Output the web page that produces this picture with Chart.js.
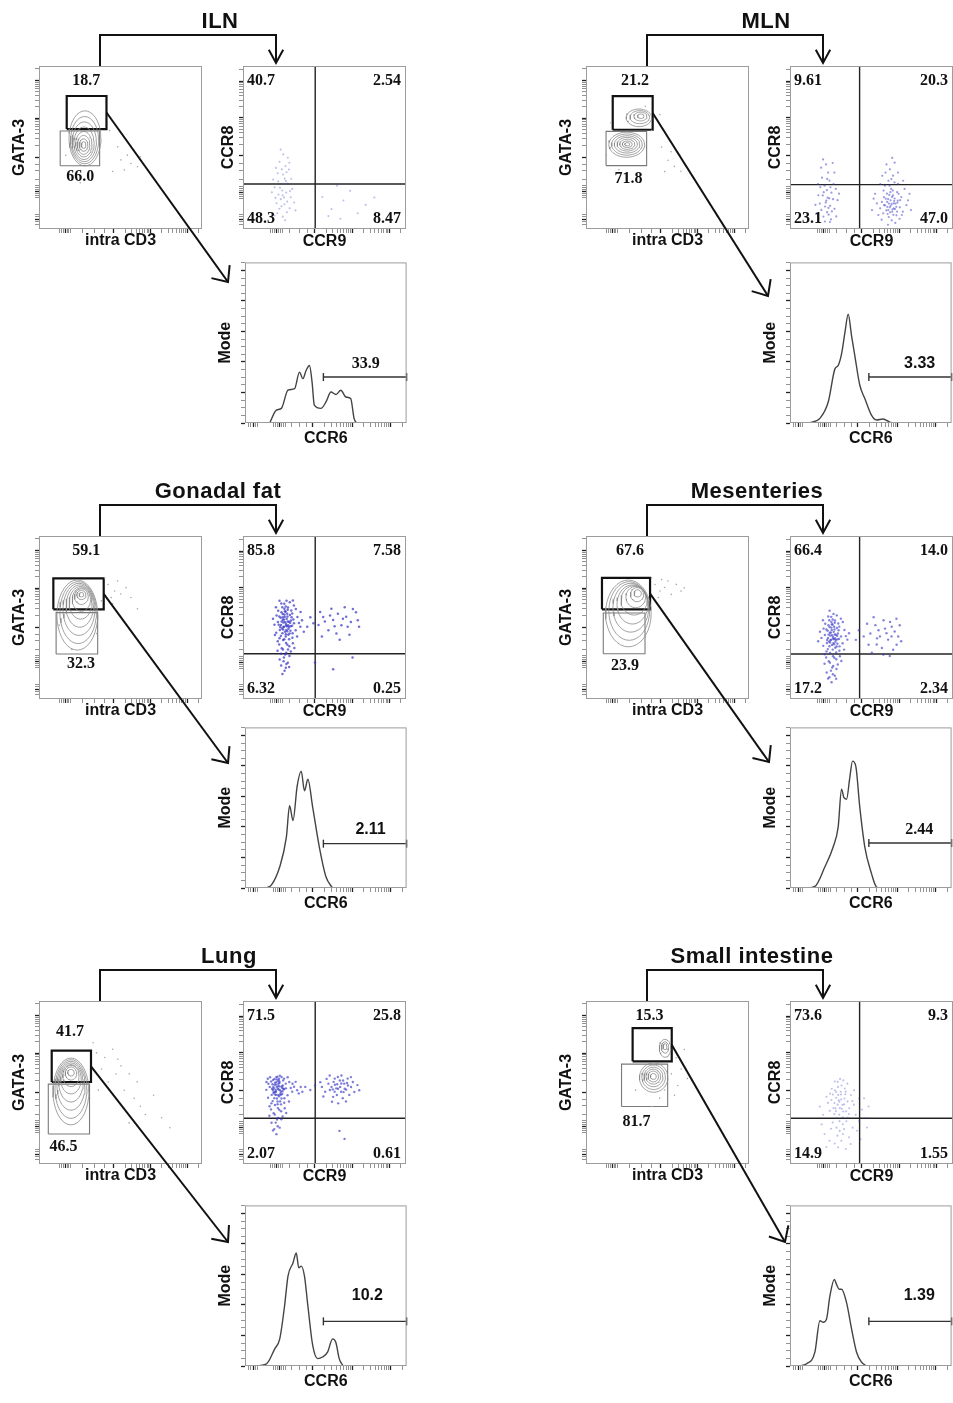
<!DOCTYPE html>
<html>
<head>
<meta charset="utf-8">
<title>GATA-3+ CD4 T cells: CCR8 / CCR9 / CCR6</title>
<script src="https://cdn.jsdelivr.net/npm/chart.js@4.4.1/dist/chart.umd.min.js"></script>
<style>
  html, body { margin: 0; background: #fff; }
  #page { position: relative; width: 953px; height: 1403px; overflow: hidden; }
  #page canvas { position: absolute; }
  #links { position: absolute; left: 0; top: 0; pointer-events: none; }
</style>
</head>
<body>
<div id="page"><svg id="links" width="953" height="1403"></svg></div>
<script>
// ============================================================
//  Gating data — every coordinate is % of the plot frame
//  (x: left -> right, y: bottom -> top)
// ============================================================

const tissues = ['ILN', 'MLN', 'Gonadal fat', 'Mesenteries', 'Lung', 'Small intestine'];

// --- GATA-3 vs intra CD3: gates [x1, x2, y1, y2] and their frequencies
const ilnUpper  = [17, 41.4, 61.3, 81.6],  ilnLower  = [13, 37.2, 38.8, 60.1];
const mlnUpper  = [16.4, 40.9, 60.9, 81.5], mlnLower = [12.3, 37.2, 38.9, 59.9];
const gonUpper  = [8.8, 39.7, 55, 74],     gonLower  = [10.5, 36, 27.6, 53];
const mesUpper  = [9.8, 39.3, 55, 74.3],   mesLower  = [10.6, 36.2, 27.8, 52.8];
const lungUpper = [7.8, 31.9, 50.3, 69.5], lungLower = [5.7, 31, 18.4, 49];
const siUpper   = [28.6, 52.6, 63, 83.4],  siLower   = [21.8, 50.1, 35.3, 61.3];

const ilnGatePct  = ['18.7', '66.0'];
const mlnGatePct  = ['21.2', '71.8'];
const gonGatePct  = ['59.1', '32.3'];
const mesGatePct  = ['67.6', '23.9'];
const lungGatePct = ['41.7', '46.5'];
const siGatePct   = ['15.3', '81.7'];

// contour levels [cx, cy, rx, ry], outermost first
const ilnRings  = [[28.2,55.6,9.8,16.9],[28,54.5,8.6,14.5],[27.8,53.5,7.4,12.2],[27.6,52.6,6.2,10],[27.5,52,5,7.8],[27.4,51.6,3.8,5.8],[27.4,51.5,2.6,3.8],[27.4,51.5,1.4,2]];
const mlnRings  = [[25,51.7,11,7.7],[25.1,51.8,9.4,6.5],[25.2,51.9,7.8,5.3],[25.3,52,6.2,4.2],[25.3,52,4.6,3.1],[25.3,52,3,2],[25.3,52,1.5,1],
                   [32.5,68.2,7.8,5.4],[33,68.6,6,4],[33.4,69,4,2.7],[33.6,69.2,2,1.4]];
const gonRings  = [[23.5,51.5,12.5,21.5],[24,53,11.2,19],[24.5,55,9.8,16],[25,57,8.4,13],[25.5,59,7,10],[26,61,5.6,7.2],[26,62.8,4.2,4.8],[26,63.8,2.8,2.8],[26,64,1.4,1.4]];
const mesRings  = [[26,52.5,14,20.5],[26.5,54,12.5,18],[27.5,56,11,15],[28.5,58,9.5,12],[29.5,60.5,8,9],[30.5,62.5,6,6.5],[31.3,64,4,4.3],[31.7,64.8,2.2,2.2]];
const lungRings = [[19.6,44.5,11,20.5],[19.6,46,9.8,18],[19.6,48,8.6,15],[19.6,50,7.5,12],[19.6,52,6.3,9],[19.6,54,5,6.5],[19.6,55.5,3.5,4],[19.6,56,2,2]];
const siRings   = [[41.5,53,8.7,9],[41.5,53.2,7.2,7.5],[41.4,53.4,5.8,6],[41.3,53.6,4.5,4.6],[41.3,53.7,3.2,3.3],[41.3,53.7,1.8,1.8],
                   [48.5,71,3.5,5.5],[48.5,71.5,2.2,3.5],[48.5,72,1.2,1.8]];

// outlying events outside the contours, flat [x, y, x, y, ...]
const ilnEvents  = [50.3,42.4, 54.2,45.3, 56.4,40.2, 58.3,48.4, 45.2,35.3, 60.4,38.2, 48.3,50.4, 20.2,30.3, 16.4,45.2, 43.3,60.4, 62.2,44.3, 52.4,36.2, 25.3,28.4, 30.2,33.3];
const mlnEvents  = [50.3,42.2, 54.2,38.4, 57.4,45.3, 52.2,47.4, 60.3,40.2, 46.4,50.3, 40.2,60.4, 45.3,70.2, 36.4,75.3, 58.2,35.4, 15.3,65.2, 12.4,45.3, 20.2,36.4, 48.3,35.2];
const gonEvents  = [42.3,70.2, 46.4,66.3, 50.2,64.4, 44.3,62.2, 53.4,68.3, 48.2,72.4, 40.3,74.2, 56.4,62.3, 45.2,58.4, 38.3,60.2, 12.4,45.3, 20.2,30.4, 35.3,40.2, 60.4,55.3];
const mesEvents  = [42.3,70.2, 45.4,66.3, 48.2,68.4, 52.3,64.2, 55.4,70.3, 50.2,72.4, 58.3,66.2, 44.4,62.3, 40.2,74.4, 60.3,68.2, 46.4,73.3, 38.2,62.4];
const lungEvents = [35.3,68.2, 40.4,65.3, 45.2,70.4, 50.3,60.2, 55.4,55.3, 60.2,50.4, 52.3,45.2, 58.4,40.3, 62.2,35.4, 47.3,55.2, 42.4,50.3, 65.2,30.4, 70.3,42.2, 38.4,58.3, 33.2,74.4, 55.3,25.2, 48.4,64.3, 75.2,28.4, 80.3,22.2, 36.4,45.3];
const siEvents   = [55.3,65.2, 52.4,55.3, 48.2,45.4, 56.3,48.2, 58.4,58.3, 45.2,40.4, 60.3,70.2, 30.4,45.3, 50.2,70.4, 54.3,42.2, 40.4,35.3, 62.2,52.4];

// --- CCR8 vs CCR9: quadrant split [x, y], frequencies TL, TR, BL, BR
const ilnQuad = [44.3, 27.6],  ilnQuadPct  = ['40.7', '2.54', '48.3', '8.47'];
const mlnQuad = [42.7, 27.2],  mlnQuadPct  = ['9.61', '20.3', '23.1', '47.0'];
const gonQuad = [44.3, 27.8],  gonQuadPct  = ['85.8', '7.58', '6.32', '0.25'];
const mesQuad = [42.7, 27.6],  mesQuadPct  = ['66.4', '14.0', '17.2', '2.34'];
const lungQuad = [44.3, 28.1], lungQuadPct = ['71.5', '25.8', '2.07', '0.61'];
const siQuad = [42.7, 28.1],   siQuadPct   = ['73.6', '9.3', '14.9', '1.55'];

const ilnDots = [22.4,41.3, 24.7,45.8, 26.1,38.6, 21.3,34.2, 25.6,30.9, 28.2,36.5, 23.5,27.7, 19.4,25.6, 27.3,27.9, 24.1,23.6,
  21.8,21.2, 26.5,22.4, 29.3,19.5, 23.2,18.3, 20.6,15.8, 25.4,15.2, 28.6,12.7, 22.3,12.4, 26.9,10.3, 24.4,7.6, 30.2,24.6,
  18.5,30.3, 27.5,43.7, 23.8,36.6, 25.2,19.4, 21.1,9.7, 29.6,30.8, 31.4,16.3, 17.7,22.5, 24.6,33.4, 22.7,25.3, 26.3,29.4,
  20.2,37.5, 28.4,40.6, 23.1,48.7, 25.8,5.4, 19.3,8.3, 32.2,11.4, 27.1,16.8, 24.3,20.7, 54.3,12.2, 61.6,17.5, 70.4,9.7,
  59.8,6.3, 48.6,19.6, 75.3,14.8, 65.7,23.4, 52.4,7.9, 80.6,19.3, 57.7,26.6, 23.6,13.9, 21.6,29.2, 26.7,34.8, 19.9,19.1, 28.8,23.3];
const mlnDots = [22.3,17.4, 20.1,20.6, 24.6,14.2, 19.2,11.7, 25.4,22.3, 23.7,8.8, 21.2,26.6, 26.4,18.3, 18.3,15.6, 24.2,29.7,
  20.5,7.6, 27.3,12.4, 22.6,23.8, 17.4,20.7, 25.1,5.9, 23.4,34.6, 19.6,31.5, 28.1,24.6, 21.5,13.8, 26.7,27.6, 16.4,9.6,
  29.2,17.7, 22.1,39.6, 24.5,4.3, 18.6,25.7, 27.2,34.6, 20.3,42.7, 23.1,19.2, 25.7,10.8, 21.4,4.6, 30.1,21.7, 15.6,14.8,
  26.2,40.5, 22.8,30.7, 19.1,37.6, 28.4,7.7, 24.8,25.6, 20.7,22.6, 23.6,12.9, 17.2,27.6, 21.9,16.2, 24.1,18.8, 22.7,10.3,
  62.3,15.4, 60.2,18.3, 64.4,12.2, 58.3,14.5, 66.1,17.4, 61.4,10.2, 63.2,20.6, 59.5,21.7, 65.3,8.4, 57.2,9.6, 67.4,13.3,
  62.1,24.6, 60.6,7.3, 64.2,18.7, 56.4,16.6, 68.3,19.6, 61.2,13.3, 63.6,15.7, 59.1,11.4, 65.7,22.6, 55.3,12.7, 69.2,10.6,
  62.4,5.3, 58.2,26.6, 66.3,27.7, 60.4,29.6, 63.2,32.7, 57.6,19.6, 67.2,6.3, 53.3,15.7, 71.4,14.6, 61.3,36.6, 64.2,40.7,
  58.6,34.6, 52.2,21.6, 70.3,24.6, 54.2,8.6, 72.4,17.6, 62.6,19.7, 60.3,11.6, 65.2,13.6, 59.6,16.6, 63.4,8.7, 61.6,22.6,
  57.4,23.6, 67.6,17.7, 56.2,5.7, 64.6,3.7, 50.3,11.6, 74.2,11.6, 59.2,39.6, 62.7,43.6, 66.2,34.6, 55.4,27.6, 69.4,29.6,
  60.7,15.6, 63.7,12.6, 58.7,18.6, 64.7,15.6, 61.7,17.6, 62.7,10.6, 65.7,10.7, 59.7,13.6, 63.1,23.6, 61.1,26.6, 66.6,21.6,
  57.7,14.6, 68.6,8.6, 60.1,2.6, 73.3,21.6, 51.3,18.6, 62.2,30.6, 56.6,32.6, 64.1,28.6, 61.8,14.2, 60.9,20.9, 63.9,17.2,
  59.9,9.2, 65.9,16.1, 62.9,12.1];
const gonDots = [26.3,46.2, 24.4,48.6, 28.2,44.3, 25.6,50.4, 27.1,52.3, 23.3,45.4, 29.4,48.2, 26.6,42.3, 24.2,40.4, 28.6,40.2,
  22.3,50.6, 30.2,52.4, 25.4,55.3, 27.6,56.2, 23.6,53.2, 29.2,44.6, 21.4,47.3, 31.3,46.4, 26.2,38.3, 24.6,36.2, 28.3,36.6,
  25.3,58.4, 22.6,42.4, 30.4,40.3, 27.4,47.6, 25.2,44.4, 27.3,50.6, 24.3,52.2, 29.6,54.3, 23.2,38.6, 26.4,34.3, 28.4,32.4,
  24.5,30.3, 22.2,33.5, 26.5,28.3, 25.1,25.4, 27.5,22.3, 23.4,20.6, 25.5,17.3, 28.5,26.4, 21.2,29.6, 30.6,34.2, 20.4,40.6,
  32.3,42.2, 19.3,45.5, 33.4,50.3, 21.6,54.2, 31.2,57.3, 26.7,60.2, 23.5,58.6, 28.7,59.3, 20.6,51.2, 34.3,46.6, 18.4,49.3,
  35.2,44.4, 24.8,44.1, 26.8,49.2, 28.8,51.6, 25.7,47.2, 27.7,45.3, 23.7,47.5, 29.8,50.2, 25.8,41.2, 27.8,39.4, 26.1,53.6,
  24.1,56.3, 22.4,37.2, 30.3,37.6, 27.2,33.3, 23.8,31.2, 25.9,27.3, 26.3,19.2, 24.2,15.4, 22.5,24.3, 29.3,29.2, 31.5,31.3,
  21.3,35.4, 33.2,38.3, 20.2,56.3, 32.4,55.2, 26.9,44.7, 25.4,51.8, 27.9,43.1, 24.7,46.9, 28.1,47.4, 22.8,44.2, 30.1,44.9,
  26.2,56.8, 25.3,36.7, 27.6,30.4, 24.9,23.2, 26.6,21.4, 23.3,27.8, 28.3,19.6, 36.2,48.3, 37.3,41.2, 19.6,39.3, 35.3,53.4,
  22.4,60.3, 30.6,60.4, 25.1,48.8, 26.5,45.1, 24.6,42.7, 27.1,41.6, 28.9,46.8, 23.1,49.9, 25.7,53.9, 27.4,54.8, 29.1,41.9,
  23.9,43.2, 26.3,39.8, 24.4,50.2, 21.9,45.6, 30.9,48.7,
  46.3,45.4, 49.2,50.3, 52.4,42.2, 55.3,48.4, 58.2,52.3, 60.4,45.2, 63.3,50.4, 66.2,47.3, 69.3,53.2, 71.2,44.4, 48.4,38.3,
  54.2,55.4, 57.3,40.2, 62.4,56.3, 65.3,39.4, 50.2,47.6, 53.4,51.3, 59.3,36.4, 64.2,44.3, 67.4,55.2, 47.3,53.4, 56.2,44.6,
  61.3,49.2, 70.4,48.3, 43.2,46.4, 41.3,50.2, 39.4,44.3, 44.2,22.4, 55.3,18.2, 67.2,25.4];
const mesDots = [26.3,38.2, 24.4,40.6, 28.2,36.3, 25.6,42.4, 27.1,44.3, 23.3,37.4, 29.4,40.2, 26.6,34.3, 24.2,32.4, 28.6,32.2,
  22.3,42.6, 30.2,44.4, 25.4,47.3, 27.6,48.2, 23.6,45.2, 29.2,36.6, 21.4,39.3, 31.3,38.4, 26.2,30.3, 24.6,28.2, 28.3,28.6,
  25.3,50.4, 22.6,34.4, 30.4,32.3, 27.4,39.6, 25.2,36.4, 27.3,42.6, 24.3,44.2, 29.6,46.3, 23.2,30.6, 26.4,26.3, 28.4,24.4,
  24.5,22.3, 22.2,25.5, 26.5,20.3, 25.1,17.4, 27.5,14.3, 23.4,12.6, 25.5,10.3, 28.5,18.4, 21.2,21.6, 30.6,26.2, 20.4,32.6,
  32.3,34.2, 19.3,37.5, 33.4,42.3, 21.6,46.2, 31.2,49.3, 26.7,52.2, 23.5,50.6, 28.7,51.3, 20.6,43.2, 34.3,38.6, 18.4,41.3,
  35.2,36.4, 24.8,36.1, 26.8,41.2, 28.8,43.6, 25.7,39.2, 27.7,37.3, 23.7,39.5, 29.8,42.2, 25.8,33.2, 27.8,31.4, 26.1,45.6,
  24.1,48.3, 22.4,29.2, 30.3,29.6, 27.2,25.3, 23.8,23.2, 25.9,19.3, 26.3,15.2, 24.2,13.4, 22.5,16.3, 29.3,21.2, 31.5,23.3,
  21.3,27.4, 33.2,30.3, 20.2,48.3, 32.4,47.2, 26.9,36.7, 25.4,43.8, 27.9,35.1, 24.7,38.9, 28.1,39.4, 22.8,36.2, 30.1,36.9,
  26.2,48.8, 17.3,35.4, 36.2,40.3, 28.3,12.4, 24.3,54.2, 25.1,40.8, 26.5,37.1, 24.6,34.7, 27.1,33.6, 28.9,38.8, 23.1,41.9,
  25.7,45.9, 27.4,46.8, 29.1,33.9, 23.9,35.2,
  49.3,40.2, 52.4,45.3, 55.2,38.4, 58.3,43.2, 61.4,47.3, 64.2,41.4, 67.3,45.2, 53.2,33.4, 57.4,48.3, 60.2,36.4, 63.3,30.2,
  66.4,38.3, 50.2,28.4, 54.3,42.2, 59.2,40.4, 62.4,44.3, 65.3,49.2, 68.2,35.4, 51.3,50.2, 56.4,31.3, 45.2,38.4, 42.3,42.2,
  40.4,36.3, 47.3,46.2, 61.2,26.4, 57.3,27.2, 65.4,33.3, 53.4,37.2, 48.2,33.3, 62.3,38.4];
const lungDots = [21.3,46.2, 19.4,48.6, 23.2,44.3, 20.6,50.4, 22.1,52.3, 18.3,45.4, 24.4,48.2, 21.6,42.3, 19.2,40.4, 23.6,40.2,
  17.3,50.6, 25.2,52.4, 20.4,53.3, 22.6,54.2, 18.6,47.2, 24.2,44.6, 16.4,47.3, 26.3,46.4, 21.2,38.3, 19.6,36.2, 23.3,36.6,
  20.3,42.4, 17.6,42.4, 25.4,40.3, 22.4,47.6, 20.2,44.4, 22.3,50.6, 19.3,52.2, 24.6,51.3, 18.2,38.6, 21.4,34.3, 23.4,32.4,
  19.5,30.3, 17.2,33.5, 21.5,28.3, 20.1,25.4, 22.5,22.3, 18.4,20.6, 20.5,18.3, 23.5,27.4, 16.2,29.6, 25.6,34.2, 15.4,40.6,
  27.3,42.2, 14.3,45.5, 28.4,50.3, 16.6,53.2, 26.2,49.3, 21.7,51.2, 18.5,51.6, 23.7,53.4, 15.6,49.2, 29.3,46.6, 14.4,50.3,
  30.2,44.4, 19.8,44.1, 21.8,49.2, 23.8,47.6, 20.7,47.2, 22.7,45.3, 18.7,43.5, 24.8,46.2, 20.8,40.2, 22.8,38.4, 21.1,53.6,
  19.1,46.3, 17.4,37.2, 25.3,37.6, 22.2,33.3, 18.8,31.2, 20.9,27.3, 21.3,23.2, 19.2,21.4, 17.5,25.3, 24.3,29.2, 26.5,31.3,
  16.3,35.4, 28.2,38.3, 15.2,52.3, 27.4,53.2, 21.9,45.7, 20.4,48.8, 22.9,43.1, 19.7,49.9, 23.1,42.4, 17.8,46.2, 25.1,45.9,
  21.2,36.7, 31.3,47.4, 33.2,45.3, 35.4,47.2, 32.3,50.4, 34.2,43.3, 30.4,49.2, 20.1,45.3, 21.6,47.8, 19.6,42.7, 22.1,41.6,
  23.9,46.8, 18.1,48.9, 20.7,51.9, 22.4,49.8, 24.1,42.9, 18.9,44.2,
  58.3,46.2, 56.4,48.6, 60.2,44.3, 55.6,50.4, 62.1,49.3, 53.3,45.4, 59.4,51.2, 57.6,42.3, 61.2,40.4, 54.6,38.2, 63.3,45.6,
  52.4,49.3, 64.2,52.4, 50.4,44.3, 66.3,47.2, 58.2,53.4, 55.3,41.2, 60.4,54.3, 65.2,42.4, 51.3,52.2, 67.4,50.3, 57.2,46.4,
  59.6,47.3, 56.2,44.4, 62.4,46.2, 54.3,47.3, 61.4,51.2, 63.2,38.4, 68.3,44.2, 48.4,47.3, 70.2,48.4, 53.2,54.3, 58.4,37.2,
  49.3,41.4, 66.2,53.3, 47.4,50.2, 71.3,45.2, 60.3,49.4, 64.4,48.2, 56.3,52.4, 38.2,47.3, 41.3,45.4, 44.2,48.2, 36.4,44.3,
  59.2,20.3, 62.3,15.4, 57.8,48.9, 61.7,44.1, 55.1,45.8, 63.8,49.7];
const siDots = [30.3,38.2, 28.4,40.6, 32.2,36.3, 29.6,42.4, 31.1,44.3, 27.3,37.4, 33.4,40.2, 30.6,34.3, 28.2,32.4, 32.6,32.2,
  26.3,42.6, 34.2,44.4, 29.4,47.3, 31.6,48.2, 27.6,45.2, 33.2,36.6, 25.4,39.3, 35.3,38.4, 30.2,30.3, 28.6,28.2, 32.3,28.6,
  29.3,50.4, 26.6,34.4, 34.4,32.3, 31.4,39.6, 29.2,36.4, 31.3,42.6, 28.3,44.2, 33.6,46.3, 27.2,30.6, 30.4,26.3, 32.4,24.4,
  28.5,22.3, 26.2,25.5, 30.5,20.3, 29.1,17.4, 31.5,14.3, 27.4,12.6, 29.5,10.3, 32.5,18.4, 25.2,21.6, 34.6,26.2, 24.4,32.6,
  36.3,34.2, 23.3,37.5, 37.4,42.3, 25.6,46.2, 35.2,49.3, 30.7,52.2, 27.5,50.6, 32.7,51.3, 24.6,43.2, 38.3,38.6, 22.4,41.3,
  39.2,36.4, 40.3,30.2, 42.4,26.3, 44.2,33.4, 46.3,28.2, 41.2,20.4, 43.3,15.2, 38.4,22.3, 36.2,16.4, 20.3,30.2, 19.4,24.3,
  21.2,18.4, 18.3,35.2, 45.4,40.3, 47.2,22.4, 39.3,45.2, 37.2,12.3, 34.3,9.2, 24.2,14.3, 22.3,10.4, 48.2,35.3, 42.3,40.2,
  33.2,21.4, 35.4,28.3, 31.8,33.9, 29.9,39.1, 33.9,42.8, 27.9,34.1, 36.1,30.7];

// --- CCR6 histograms: curve [x, y, ...] (y = % of Mode axis), marker [start, y], marker frequency
const ilnCcr6 = [15.3,0, 19.4,8.0, 22.5,9.1, 26.6,20.4, 30.7,21.4, 33.7,31.7, 35.8,27.6, 37.8,32.7, 39.9,35.8, 41.5,25.5,
  42.9,11.1, 47.0,9.1, 50.1,13.1, 53.2,19.3, 56.3,17.7, 59.3,20.4, 62.4,16.2, 65.4,15.2, 67.5,2.9, 68.9,0];
const mlnCcr6 = [11.3,0, 18.5,2.9, 23.7,13.2, 27.8,33.7, 29.8,35.8, 31.9,43.0, 34.0,56.4, 36.0,67.7, 38.1,54.3, 40.1,42.0,
  43.2,23.5, 46.3,15.2, 50.4,4.9, 53.5,1.9, 57.6,2.5, 61.7,0.6, 63.8,0];
const gonCcr6 = [13.3,0, 16.4,1.9, 21.5,13.2, 25.6,31.7, 27.6,51.2, 29.7,42.0, 32.3,63.6, 34.8,72.8, 36.8,60.5, 38.9,67.7,
  41.9,50.2, 46.0,25.5, 50.1,7.0, 54.2,0];
const mesCcr6 = [10.3,0, 15.4,1.0, 21.6,13.2, 26.7,25.5, 29.8,37.9, 31.9,61.5, 33.3,56.4, 35.0,55.3, 37.0,68.7, 38.7,79.0,
  40.7,75.9, 43.2,50.2, 46.3,25.5, 50.4,9.1, 53.5,0.6, 55.6,0];
const lungCcr6 = [5.1,0, 13.3,1.4, 18.4,10.7, 21.5,16.9, 24.5,37.5, 26.6,56.0, 29.7,64.2, 31.7,70.4, 33.3,61.1, 34.8,62.2,
  36.8,56.0, 38.9,37.5, 41.9,12.8, 45.0,4.6, 48.0,5.6, 51.1,8.6, 54.2,16.9, 56.2,14.8, 58.3,4.6, 60.7,0];
const siCcr6 = [5.1,0, 10.3,1.4, 15.4,8.6, 18.5,28.2, 20.6,27.2, 22.6,29.2, 24.7,43.6, 27.4,53.9, 28.8,50.8, 30.5,47.8,
  31.9,47.8, 35.0,39.5, 38.1,23.1, 41.2,8.6, 44.2,2.5, 47.3,0];

const ilnMarker = [48.5, 28.6],  ilnCcr6Pct  = '33.9';
const mlnMarker = [48.8, 28.6],  mlnCcr6Pct  = '3.33';
const gonMarker = [48.5, 27.6],  gonCcr6Pct  = '2.11';
const mesMarker = [48.8, 28],    mesCcr6Pct  = '2.44';
const lungMarker = [48.5, 27.8], lungCcr6Pct = '10.2';
const siMarker = [48.8, 27.8],   siCcr6Pct   = '1.39';

// --- axis tick positions (biexponential display: "zero" cluster, then decades)
const cd3Ticks   = { extra: [],  zero: 16,   decades: [46, 68.5, 91] };
const gataTicks  = { extra: [6], zero: 23,   decades: [44, 68, 91] };
const ccr9Ticks  = { extra: [],  zero: 20.5, decades: [44, 67, 90] };
const ccr8Ticks  = { extra: [6], zero: 22.4, decades: [45, 68.3, 90.7] };
const ccr6Ticks  = { extra: [5], zero: 21.5, decades: [42, 66.4, 90] };
const modeTicks  = [0, 19, 38, 57, 76, 95];

// ============================================================
//  Layout
// ============================================================
const SANS  = "'Liberation Sans', Arial, Helvetica, sans-serif";
const SERIF = "'Liberation Serif', 'Times New Roman', serif";
const AXW = 36, AXH = 30, PADT = 4, PADR = 4;
const PLOT = 163, HIST_H = 162;

const cols = [{ contour: 39, dot: 243, hist: 245 }, { contour: 586, dot: 790, hist: 790 }];
const rows = [{ plot: 66, hist: 261 }, { plot: 536, hist: 726 }, { plot: 1001, hist: 1204 }];
const QUAD_SPOTS = [[2.5, 90.7, 'left'], [97, 90.7, 'right'], [2.5, 6.2, 'left'], [97, 6.2, 'right']];

const panels = [
  { rings: ilnRings, events: ilnEvents, upper: ilnUpper, lower: ilnLower, gatePct: ilnGatePct,
    quad: ilnQuad, quadPct: ilnQuadPct, dots: ilnDots, ccr6: ilnCcr6, marker: ilnMarker, ccr6Pct: ilnCcr6Pct },
  { rings: mlnRings, events: mlnEvents, upper: mlnUpper, lower: mlnLower, gatePct: mlnGatePct,
    quad: mlnQuad, quadPct: mlnQuadPct, dots: mlnDots, ccr6: mlnCcr6, marker: mlnMarker, ccr6Pct: mlnCcr6Pct },
  { rings: gonRings, events: gonEvents, upper: gonUpper, lower: gonLower, gatePct: gonGatePct,
    quad: gonQuad, quadPct: gonQuadPct, dots: gonDots, ccr6: gonCcr6, marker: gonMarker, ccr6Pct: gonCcr6Pct },
  { rings: mesRings, events: mesEvents, upper: mesUpper, lower: mesLower, gatePct: mesGatePct,
    quad: mesQuad, quadPct: mesQuadPct, dots: mesDots, ccr6: mesCcr6, marker: mesMarker, ccr6Pct: mesCcr6Pct },
  { rings: lungRings, events: lungEvents, upper: lungUpper, lower: lungLower, gatePct: lungGatePct,
    quad: lungQuad, quadPct: lungQuadPct, dots: lungDots, ccr6: lungCcr6, marker: lungMarker, ccr6Pct: lungCcr6Pct },
  { rings: siRings, events: siEvents, upper: siUpper, lower: siLower, gatePct: siGatePct,
    quad: siQuad, quadPct: siQuadPct, dots: siDots, ccr6: siCcr6, marker: siMarker, ccr6Pct: siCcr6Pct },
];

// per panel: title centre, gate label anchors, histogram label anchor/font, arrow tip (from histogram corner), dot shade
const looks = [
  { titleX: 220, gateLbl: [[29, 91], [25.3, 32]],   histLbl: [74.7, 36.8], histFont: SERIF, tip: [-17, 21], dotAlpha: 0.32, dotR: 1.05 },
  { titleX: 766, gateLbl: [[30, 90.7], [26, 30.7]], histLbl: [80.2, 36.8], histFont: SANS,  tip: [-22, 35], dotAlpha: 0.5,  dotR: 1.1 },
  { titleX: 218, gateLbl: [[29, 91], [25.7, 21.5]], histLbl: [77.7, 36.4], histFont: SANS,  tip: [-17, 37], dotAlpha: 0.72, dotR: 1.25 },
  { titleX: 757, gateLbl: [[27, 91], [24, 20.6]],   histLbl: [80, 36.4],   histFont: SERIF, tip: [-21, 36], dotAlpha: 0.62, dotR: 1.2 },
  { titleX: 229, gateLbl: [[19, 81.3], [15, 10.8]], histLbl: [75.7, 43.6], histFont: SANS,  tip: [-17, 38], dotAlpha: 0.65, dotR: 1.2 },
  { titleX: 752, gateLbl: [[39, 91], [31, 26]],     histLbl: [80, 43.6],   histFont: SANS,  tip: [-5, 38],  dotAlpha: 0.32, dotR: 1.05 },
];

// ============================================================
//  Helpers
// ============================================================
const pairs = a => { const out = []; for (let i = 0; i < a.length; i += 2) out.push({ x: a[i], y: a[i + 1] }); return out; };
const box = g => [{ x: g[0], y: g[2] }, { x: g[1], y: g[2] }, { x: g[1], y: g[3] }, { x: g[0], y: g[3] }, { x: g[0], y: g[2] }];
function ellipse([cx, cy, rx, ry]) {
  const pts = [];
  for (let i = 0; i <= 36; i++) {
    const t = i / 36 * 2 * Math.PI;
    pts.push({ x: cx + rx * Math.cos(t), y: cy + ry * Math.sin(t) });
  }
  return pts;
}

function logicle(spec) {
  const { extra, zero, decades } = spec;
  const t = [...extra, zero - 3.6, zero - 2.4, zero - 1.2, zero, zero + 1.2, zero + 2.4, zero + 3.6];
  const gap = decades[0] - zero;
  [0.35, 0.6, 0.8].forEach(f => t.push(zero + gap * f));
  const step = decades[1] - decades[0];
  const edges = [...decades, decades[decades.length - 1] + step];
  for (let i = 0; i < edges.length - 1; i++) {
    for (let k = 1; k <= 9; k++) t.push(edges[i] + (edges[i + 1] - edges[i]) * Math.log10(k));
  }
  extra.forEach(e => [-3, -1.5, 1.5, 3].forEach(d => t.push(e + d)));
  return { all: t.filter(v => v >= 0 && v <= 100), majors: [...extra, zero, ...decades] };
}
function linearTicks(majors) {
  const t = [];
  const step = majors[1] - majors[0];
  majors.forEach(m => { for (let k = 0; k < 4; k++) if (m + k * step / 4 <= 100) t.push(m + k * step / 4); });
  return { all: t, majors };
}

function axis(horiz, ticks, title, pad) {
  const isMajor = c => c.tick && ticks.majors.some(m => Math.abs(m - c.tick.value) < 1e-6);
  return {
    type: 'linear', position: horiz ? 'bottom' : 'left', min: 0, max: 100,
    afterBuildTicks: s => { s.ticks = ticks.all.map(v => ({ value: v })); },
    afterFit: s => { if (horiz) s.height = AXH; else s.width = AXW; },
    ticks: { display: false },
    border: { display: false },
    grid: {
      drawOnChartArea: false, drawTicks: true, tickLength: 4,
      tickColor: c => isMajor(c) ? '#222' : '#777',
      tickWidth: c => isMajor(c) ? 1.3 : 0.8,
    },
    title: {
      display: true, text: title, color: '#111',
      font: { family: SANS, size: 16, weight: 'bold' },
      padding: horiz ? { top: 0, bottom: pad } : { top: pad, bottom: 0 },
    },
  };
}

const framePlugin = {
  id: 'frame',
  afterDatasetsDraw(chart) {
    const a = chart.chartArea, ctx = chart.ctx;
    ctx.save();
    ctx.strokeStyle = '#9c9c9c';
    ctx.lineWidth = 1;
    ctx.strokeRect(a.left + 0.5, a.top + 0.5, a.right - a.left - 1, a.bottom - a.top - 1);
    ctx.restore();
  },
};
const notesPlugin = {
  id: 'notes',
  afterDraw(chart, args, opts) {
    const ctx = chart.ctx, sx = chart.scales.x, sy = chart.scales.y;
    ctx.save();
    ctx.fillStyle = '#111';
    ctx.textBaseline = 'middle';
    (opts.items || []).forEach(n => {
      ctx.font = n.font;
      ctx.textAlign = n.align || 'center';
      ctx.fillText(n.text, sx.getPixelForValue(n.x), sy.getPixelForValue(n.y));
    });
    ctx.restore();
  },
};

const page = document.getElementById('page');
function makeChart(left, top, h, datasets, xAxis, yAxis, notes) {
  const c = document.createElement('canvas');
  const w = AXW + PLOT + PADR, ht = PADT + h + AXH;
  c.width = w; c.height = ht;
  c.style.width = w + 'px'; c.style.height = ht + 'px';
  c.style.left = (left - AXW) + 'px';
  c.style.top = (top - PADT) + 'px';
  page.insertBefore(c, document.getElementById('links'));
  const chart = new Chart(c, {
    type: 'scatter',
    data: { datasets },
    options: {
      responsive: false, animation: false, events: [], devicePixelRatio: 1,
      layout: { padding: { top: PADT, right: PADR, left: 0, bottom: 0 } },
      plugins: { legend: { display: false }, tooltip: { enabled: false }, notes: { items: notes } },
      scales: { x: xAxis, y: yAxis },
    },
    plugins: [framePlugin, notesPlugin],
  });
  chart.$origin = [left - AXW, top - PADT];
  return chart;
}

const NUM_FONT = `bold 16px ${SERIF}`;
const cd3Axis = logicle(cd3Ticks), gataAxis = logicle(gataTicks);
const ccr9Axis = logicle(ccr9Ticks), ccr8Axis = logicle(ccr8Ticks);
const ccr6Axis = logicle(ccr6Ticks), modeAxis = linearTicks(modeTicks);

// ============================================================
//  Build the 6 x 3 plots
// ============================================================
const svg = document.getElementById('links');
const NS = 'http://www.w3.org/2000/svg';
function svgEl(tag, attrs, text) {
  const e = document.createElementNS(NS, tag);
  Object.entries(attrs).forEach(([k, v]) => e.setAttribute(k, v));
  if (text) e.textContent = text;
  svg.appendChild(e);
  return e;
}
function arrowHead(x, y, ang, len, spread) {
  const a1 = ang + Math.PI - spread, a2 = ang + Math.PI + spread;
  svgEl('polyline', {
    points: `${x + len * Math.cos(a1)},${y + len * Math.sin(a1)} ${x},${y} ${x + len * Math.cos(a2)},${y + len * Math.sin(a2)}`,
    fill: 'none', stroke: '#111', 'stroke-width': 2, 'stroke-linejoin': 'miter',
  });
}

panels.forEach((p, i) => {
  const col = cols[i % 2], row = rows[Math.floor(i / 2)], look = looks[i];

  // GATA-3 vs intra CD3 contour plot
  const contourSets = p.rings.map(r => ({
    data: ellipse(r), showLine: true, borderColor: '#8a8a8a', borderWidth: 0.8, pointRadius: 0,
  }));
  contourSets.push({ data: pairs(p.events), pointRadius: 0.8, backgroundColor: '#a8a8a8', borderWidth: 0 });
  contourSets.push({ data: box(p.lower), showLine: true, borderColor: '#7a7a7a', borderWidth: 1.1, pointRadius: 0 });
  contourSets.push({ data: box(p.upper), showLine: true, borderColor: '#111', borderWidth: 2.2, pointRadius: 0 });
  const contour = makeChart(col.contour, row.plot, PLOT, contourSets,
    axis(true, cd3Axis, 'intra CD3', 8.6), axis(false, gataAxis, 'GATA-3', 7.4),
    p.gatePct.map((t, k) => ({ text: t, x: look.gateLbl[k][0], y: look.gateLbl[k][1], font: NUM_FONT })));

  // CCR8 vs CCR9 dot plot
  const dotSets = [
    { data: pairs(p.dots), pointRadius: look.dotR, backgroundColor: `rgba(55,55,200,${look.dotAlpha})`, borderWidth: 0 },
    { data: [{ x: p.quad[0], y: 0 }, { x: p.quad[0], y: 100 }], showLine: true, borderColor: '#222', borderWidth: 1.4, pointRadius: 0 },
    { data: [{ x: 0, y: p.quad[1] }, { x: 100, y: p.quad[1] }], showLine: true, borderColor: '#222', borderWidth: 1.4, pointRadius: 0 },
  ];
  makeChart(col.dot, row.plot, PLOT, dotSets,
    axis(true, ccr9Axis, 'CCR9', 7.6), axis(false, ccr8Axis, 'CCR8', 11.7),
    p.quadPct.map((t, k) => ({ text: t, x: QUAD_SPOTS[k][0], y: QUAD_SPOTS[k][1], align: QUAD_SPOTS[k][2], font: NUM_FONT })));

  // CCR6 histogram
  const histSets = [
    { data: pairs(p.ccr6), showLine: true, borderColor: '#444', borderWidth: 1.4, pointRadius: 0,
      cubicInterpolationMode: 'monotone' },
    { data: [{ x: p.marker[0], y: p.marker[1] }, { x: 100, y: p.marker[1] }], showLine: true, clip: false,
      borderColor: '#333', borderWidth: 1.4, pointStyle: 'line', rotation: 90, pointRadius: 4,
      pointBorderColor: '#333', pointBorderWidth: 1.4 },
  ];
  makeChart(col.hist, row.hist, HIST_H, histSets,
    axis(true, ccr6Axis, 'CCR6', 5.1), axis(false, modeAxis, 'Mode', 7.2),
    [{ text: p.ccr6Pct, x: look.histLbl[0], y: look.histLbl[1], font: `bold 16px ${look.histFont}` }]);

  // tissue title and the bracket arrow into the dot plot
  svgEl('text', { x: look.titleX, y: row.plot - 38, 'text-anchor': 'middle', 'font-family': SANS,
    'font-size': 22, 'font-weight': 'bold', 'letter-spacing': 0.5, fill: '#111' }, tissues[i]);
  const bx1 = col.contour + 61, bx2 = col.dot + 33, by = row.plot - 31, tipY = row.plot - 3;
  svgEl('polyline', { points: `${bx1},${row.plot} ${bx1},${by} ${bx2},${by} ${bx2},${tipY}`,
    fill: 'none', stroke: '#111', 'stroke-width': 2 });
  arrowHead(bx2, tipY, Math.PI / 2, 15, 0.5);

  // diagonal arrow from the GATA-3 high gate to the histogram
  const [ox, oy] = contour.$origin;
  const sx = ox + contour.scales.x.getPixelForValue(p.upper[1]);
  const sy = oy + contour.scales.y.getPixelForValue((p.upper[2] + p.upper[3]) / 2);
  const tx = col.hist + look.tip[0], ty = row.hist + look.tip[1];
  svgEl('line', { x1: sx, y1: sy, x2: tx, y2: ty, stroke: '#111', 'stroke-width': 2 });
  arrowHead(tx, ty, Math.atan2(ty - sy, tx - sx), 17, 0.72);
});
</script>
</body>
</html>
